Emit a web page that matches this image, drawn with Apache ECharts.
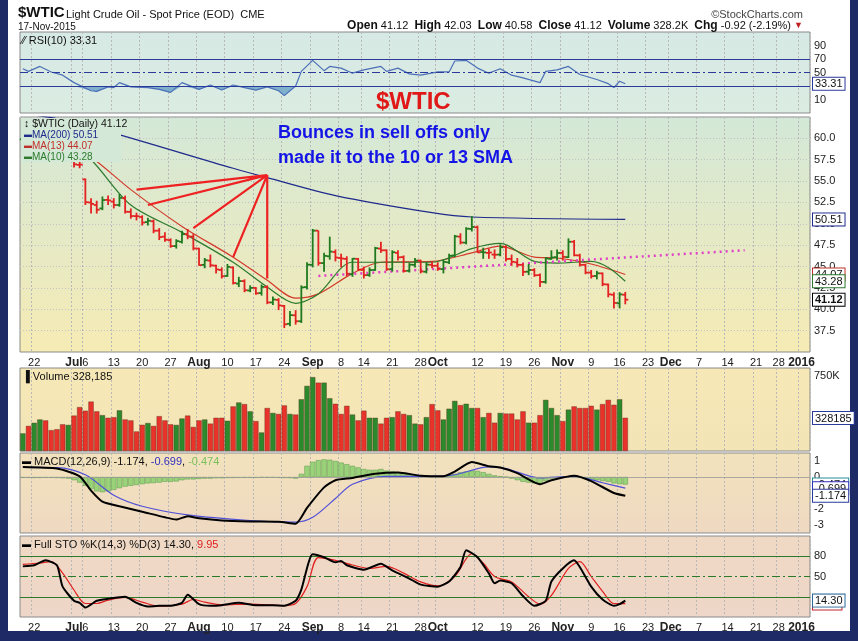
<!DOCTYPE html>
<html>
<head>
<meta charset="utf-8">
<script src="https://cdn.jsdelivr.net/npm/echarts@6/dist/echarts.min.js"></script>
<style>
html,body{margin:0;padding:0;background:#1d2a66;}
#wrap{position:absolute;left:8px;top:0;width:842px;height:631px;background:#fff;}
#main{position:absolute;left:0;top:0;width:858px;height:641px;}
</style>
</head>
<body>
<div id="wrap"></div>
<div id="main"></div>
<script>
// 价格数据 [open, high, low, close]，从 2015-06-18 到 2015-11-17
var ohlc = [
[59.9,60.9,59.6,60.45],[60.4,60.6,59.3,59.61],[59.6,60.2,59.2,59.68],[59.7,61.4,59.5,61.01],[61.0,61.2,60.0,60.27],
[60.3,60.6,59.4,59.70],[59.7,60.1,59.2,59.63],[59.0,59.3,58.0,58.33],[58.4,59.7,58.2,59.47],[58.0,58.1,56.6,56.96],
[56.9,57.5,56.5,56.93],[55.2,55.3,52.2,52.53],[52.5,53.0,51.2,52.33],[52.2,52.7,51.2,51.65],[51.8,53.2,51.6,52.78],
[52.8,53.3,52.2,52.74],[52.6,53.0,51.8,52.20],[52.2,53.5,52.0,53.04],[53.0,53.3,51.2,51.41],[51.4,51.8,50.6,50.91],
[50.9,51.3,50.4,50.89],[50.8,51.0,49.8,50.15],[50.2,50.7,49.8,50.36],[50.3,50.5,48.9,49.19],[49.2,49.5,48.1,48.45],
[48.5,49.0,47.9,48.14],[48.1,48.3,47.2,47.39],[47.4,48.2,47.1,47.98],[47.9,49.2,47.7,48.79],[48.8,49.4,48.2,48.52],
[48.5,48.8,46.9,47.12],[47.1,47.2,45.1,45.17],[45.2,46.0,44.8,45.74],[45.7,46.4,44.9,45.15],[45.1,45.2,44.2,44.66],
[44.6,44.9,43.6,43.87],[43.9,45.3,43.8,44.96],[44.9,45.0,42.9,43.08],[43.0,43.8,42.6,43.30],[43.3,43.5,42.0,42.23],
[42.2,42.8,42.0,42.50],[42.5,42.6,41.7,41.87],[41.9,42.9,41.6,42.62],[42.6,42.8,40.6,40.80],[40.8,41.5,40.5,41.14],
[41.1,41.3,39.9,40.45],[40.4,40.5,37.8,38.24],[38.3,39.8,38.0,39.31],[39.3,39.9,38.2,38.60],[38.6,42.8,38.4,42.56],
[42.6,45.5,42.3,45.22],[45.2,49.4,44.9,49.20],[49.2,49.2,45.1,45.41],[45.4,46.6,44.4,46.25],[46.2,48.5,45.8,46.75],
[46.7,47.0,45.6,46.05],[46.0,46.5,44.9,45.94],[45.9,46.2,43.9,44.15],[44.1,46.0,43.8,45.92],[45.9,46.0,44.5,44.63],
[44.6,45.0,43.6,44.00],[44.0,44.9,43.8,44.59],[44.6,47.3,44.5,47.15],[47.1,47.9,46.6,46.90],[46.9,47.0,44.5,44.68],
[44.7,46.9,44.4,46.68],[46.6,46.9,45.7,46.08],[46.1,46.3,44.3,44.48],[44.5,45.4,44.3,45.22],[45.2,46.0,44.9,45.70],
[45.7,45.8,44.2,44.43],[44.4,45.5,44.2,45.23],[45.2,45.6,44.8,45.09],[45.1,45.5,44.5,44.74],[44.7,45.8,44.2,45.54],
[45.5,46.5,45.3,46.26],[46.3,48.7,46.1,48.53],[48.5,48.9,47.6,47.81],[47.8,49.6,47.6,49.43],[49.4,50.9,49.1,49.63],
[49.6,49.8,46.6,46.66],[46.7,47.2,45.9,46.66],[46.6,47.1,45.9,46.64],[46.4,47.0,45.9,46.38],[46.4,47.6,46.2,47.26],
[47.3,47.5,45.6,45.89],[45.9,46.4,45.1,45.55],[45.5,46.0,44.9,45.20],[45.2,45.4,43.9,44.38],[44.4,45.3,44.0,44.60],
[44.6,44.8,43.8,43.98],[44.0,44.2,42.6,43.20],[43.2,46.1,43.0,45.94],[45.9,46.9,45.8,46.06],[46.1,47.0,45.7,46.59],
[46.6,46.9,45.7,46.14],[46.1,48.3,46.0,47.90],[47.9,48.1,46.2,46.32],[46.3,46.5,45.0,45.20],[45.2,45.3,44.1,44.29],
[44.3,44.6,43.6,43.87],[43.9,44.5,43.5,44.21],[44.2,44.3,42.7,42.93],[42.9,43.0,41.4,41.75],[41.7,42.0,40.1,40.74],
[40.7,42.0,40.1,41.74],[41.7,42.03,40.58,41.12]
];
// 成交量 (K)
var volume = [175,249,280,313,304,207,216,265,259,352,436,400,491,394,356,330,336,404,313,304,
194,260,278,249,346,304,265,259,323,352,239,304,313,272,330,330,300,443,482,466,
394,297,184,427,378,368,453,368,362,514,647,734,679,679,524,469,368,449,362,304,
401,330,330,272,330,336,394,368,356,272,265,336,466,404,313,420,498,456,469,427,
427,336,378,281,378,372,372,313,394,281,281,356,508,427,356,297,411,443,427,427,
449,411,466,508,459,514,330];
// 均线 [交易日序号, 值]
var ma200 = [[0,62.9],[6,62.3],[14,61.0],[37,56.5],[43,55.4],[55,53.3],[72,51.3],[79,50.8],[106,50.51]];
var ma13 = [[0,60.2],[9,58.5],[12,57.8],[19,54.0],[28,49.7],[37,46.1],[43,43.4],[48,41.3],[52,41.8],[58,44.2],[63,45.5],[72,45.6],[79,46.6],[84,47.4],[90,46.1],[94,46.0],[100,45.3],[106,44.07]];
var ma10 = [[0,60.0],[9,58.6],[12,57.5],[19,52.2],[28,49.0],[37,45.5],[43,42.6],[48,40.7],[52,41.8],[58,45.5],[72,45.5],[79,47.1],[84,47.7],[90,45.6],[94,45.4],[100,45.6],[103,44.9],[106,43.28]];
var trendLine = [[52,43.9],[127,46.9]];
var fanApex = [43,55.7];
var fanEnds = [[20,54.0],[22,52.2],[30,49.5],[37,46.1],[43,43.6]];
// RSI(10)
var rsi = [[0,55.6],[1,51.7],[3,59],[5,50.8],[7,46],[9,35],[12,23],[13,22],[15,28.7],[16,27.7],[17,35],[19,28.7],[22,27.7],[24,25],[26,20.5],[28,35],[31,25],[33,31.5],[35,24],[37,31.5],[39,27.7],[41,24],[43,28.7],[45,23],[46,15.7],[48,30],[49,51.7],[51,68],[53,52.7],[54,59],[56,56.5],[58,49],[60,54],[63,59],[64,51.7],[66,56.5],[68,48],[70,46],[73,50.8],[75,50.8],[76,67],[78,68],[80,56.5],[82,49],[84,55.6],[86,46],[88,42],[91,35],[92,51.7],[94,54],[96,59],[98,47],[101,39.7],[103,33.5],[104,27.7],[105,37],[106,33.31]];
// MACD(12,26,9)
var macd = [[0,0.63],[6,0.53],[10,0.04],[12,-0.85],[14,-1.54],[17,-1.83],[21,-2.17],[25,-2.52],[27,-2.66],[29,-2.45],[31,-2.58],[35,-2.72],[40,-2.78],[45,-2.8],[48,-2.92],[50,-1.93],[53,-0.65],[55,-0.2],[58,-0.06],[62,0.2],[66,0.28],[70,0.08],[74,0.04],[76,0.34],[79,0.93],[82,0.67],[84,0.59],[87,0.24],[91,-0.45],[93,-0.2],[97,0.08],[100,-0.26],[104,-1.0],[106,-1.174]];
var macdSignal = [[0,0.6],[6,0.59],[11,0.14],[16,-1.14],[21,-1.83],[29,-2.37],[40,-2.72],[48,-2.82],[51,-2.52],[55,-1.34],[58,-0.45],[64,0.04],[72,0.04],[76,0.14],[82,0.63],[85,0.53],[91,-0.06],[97,0.04],[102,-0.36],[106,-0.699]];
var macdHist = [-0.05,-0.05,-0.06,-0.06,-0.05,-0.05,-0.06,-0.08,-0.1,
-0.2,-0.35,-0.55,-0.75,-0.9,-0.95,-0.9,-0.8,-0.7,-0.6,-0.55,-0.5,
-0.45,-0.4,-0.38,-0.35,-0.3,-0.3,-0.28,-0.2,-0.15,-0.15,-0.12,-0.1,-0.1,-0.08,-0.08,-0.06,-0.06,-0.05,-0.05,-0.05,-0.05,-0.04,-0.04,-0.04,-0.05,
-0.06,-0.07,-0.1,0.2,0.7,
0.95,1.05,1.1,1.08,1.0,0.9,0.8,0.7,0.6,0.5,
0.45,0.45,0.5,0.4,0.35,0.3,0.25,0.2,0.15,0.1,0.08,0.05,
0.03,0.05,0.1,0.2,0.3,0.35,0.4,
0.38,0.3,0.2,0.1,0.05,0.0,-0.1,
-0.2,-0.3,-0.35,-0.4,-0.4,-0.25,-0.1,-0.05,
0.0,0.05,0.03,-0.05,-0.1,
-0.15,-0.2,-0.25,-0.3,-0.4,-0.45,-0.474];
// Full STO
var stoK = [[0,65],[2,66.6],[4,74],[6,66.6],[7,35],[9,14],[10,11],[11,4],[13,14],[15,17],[18,20],[20,11],[22,5.6],[24,6.6],[26,6.6],[28,11],[29,23],[31,9],[33,6.6],[35,7.5],[38,11],[41,7.5],[44,7.5],[46,6.6],[48,14],[49,30.6],[51,83],[53,78.6],[55,71],[56,73],[57,66.6],[60,60],[63,69],[65,59],[68,47],[70,38],[73,35],[75,42.6],[77,64],[78,89],[80,78.6],[82,54.6],[83,40],[84,44],[86,40],[88,21],[90,6.6],[92,14],[93,42.6],[95,62],[97,74],[98,64],[100,35],[102,16],[104,6.6],[105,9],[106,14.3]];
var stoD = [[0,68],[3,70],[5,72],[7,55],[9,30],[11,10],[13,10],[15,15],[18,19],[21,12],[24,6],[28,9],[30,16],[32,12],[35,8],[40,9],[46,7],[48,10],[50,35],[52,78],[55,74],[58,67],[61,62],[64,65],[67,55],[70,42],[73,36],[76,50],[79,84],[81,70],[83,50],[86,42],[89,20],[91,9],[93,22],[96,62],[98,72],[100,50],[102,28],[104,10],[106,9.95]];
// 横轴刻度标签
var tickLabels = {'2015-06-22':'22','2015-07-01':'Jul','2015-07-06':'6','2015-07-13':'13','2015-07-20':'20','2015-07-27':'27',
'2015-08-03':'Aug','2015-08-10':'10','2015-08-17':'17','2015-08-24':'24','2015-08-31':'Sep','2015-09-08':'8','2015-09-14':'14',
'2015-09-21':'21','2015-09-28':'28','2015-10-01':'Oct','2015-10-12':'12','2015-10-19':'19','2015-10-26':'26','2015-11-02':'Nov',
'2015-11-09':'9','2015-11-16':'16','2015-11-23':'23','2015-11-30':'Dec','2015-12-07':'7','2015-12-14':'14','2015-12-21':'21',
'2015-12-28':'28','2016-01-01':'2016'};

// 交易日
var holidays = ['2015-07-03','2015-09-07','2015-11-26','2015-12-25'];
var days = [];
var d = new Date(Date.UTC(2015,5,18));
while (days.length < 139) {
    var s = d.toISOString().slice(0,10);
    var wd = d.getUTCDay();
    if (wd != 0 && wd != 6 && holidays.indexOf(s) < 0) days.push(s);
    d.setUTCDate(d.getUTCDate() + 1);
}

var UP = '#1f7a1f', DN = '#e32222';
function isUp(i) { return i == 0 ? true : ohlc[i][3] >= ohlc[i-1][3]; }

var chart = echarts.init(document.getElementById('main'));
var FONT = 'Liberation Sans';
var grids = [
    {top: 32, height: 81},   // RSI
    {top: 117, height: 235}, // price
    {top: 368, height: 83},  // volume
    {top: 453, height: 80},  // MACD
    {top: 536, height: 81}   // STO
];
var bgs = [
    ['#d6e9e4','#dbece2'],
    ['#d3e8d8','#f6ebb4'],
    ['#f6e8b6','#f3e4b6'],
    ['#f2e2bc','#efd9c2'],
    ['#efd9c4','#eed6c8']
];
var gridOpts = grids.map(function (g, i) {
    return {left: 20, right: 48, top: g.top, height: g.height, show: true, borderColor: '#8a8a8a', borderWidth: 1,
        backgroundColor: {type: 'linear', x: 0, y: 0, x2: 0, y2: 1, colorStops: [{offset: 0, color: bgs[i][0]}, {offset: 1, color: bgs[i][1]}]}};
});
var xAxes = grids.map(function (g, i) {
    var showLab = (i == 1 || i == 4);
    return {
        type: 'category', gridIndex: i, data: days, boundaryGap: true,
        axisLine: {show: false}, axisTick: {show: false},
        axisLabel: {show: showLab, interval: 0, margin: 5, fontFamily: FONT, fontSize: 11, color: '#222',
            formatter: function (v) {
                var t = tickLabels[v];
                if (!t) return '';
                return /[A-Z]|2016/.test(t) ? '{b|' + t + '}' : t;
            },
            rich: {b: {fontWeight: 'bold', fontSize: 12, fontFamily: FONT, color: '#222'}}},
        splitLine: {show: true, interval: function (idx, v) { return !!tickLabels[v]; },
            lineStyle: {color: '#b8b8b8', type: [2, 2], width: 1}}
    };
});
function yAx(i, min, max, interval, fmt, grid) {
    return {type: 'value', gridIndex: i, position: 'right', min: min, max: max, interval: interval,
        axisLine: {show: false}, axisTick: {show: false},
        axisLabel: {fontFamily: FONT, fontSize: 11, color: '#222', margin: 4, formatter: fmt},
        splitLine: {show: grid, lineStyle: {color: '#c4c4c4', type: [1, 2]}}};
}
var yAxes = [
    yAx(0, -10, 110, 10, function (v) { return (v == 90 || v == 70 || v == 50 || v == 10) ? v : ''; }, false),
    yAx(1, 35, 62.5, 2.5, function (v) { return (v >= 37.5 && v <= 60) ? v.toFixed(1) : ''; }, true),
    yAx(2, 0, 825, 75, function (v) { return (v == 250 || v == 500 || v == 750) ? v + 'K' : ''; }, false),
    yAx(3, -3.5, 1.5, 0.5, function (v) { return (v == 1 || v == 0 || v == -2 || v == -3) ? v : ''; }, false),
    yAx(4, -10, 110, 10, function (v) { return (v == 80 || v == 50) ? v : ''; }, false)
];

var rsiBelow = rsi.map(function (p) { return [p[0], Math.min(p[1], 30)]; });

function dashMark(axisVal, color, type) {
    return {yAxis: axisVal, lineStyle: {color: color, type: type, width: 1.2}};
}

var series = [
    // RSI
    {type: 'line', xAxisIndex: 0, yAxisIndex: 0, data: rsiBelow, symbol: 'none', lineStyle: {width: 0},
        areaStyle: {color: '#6fa7c8', opacity: 0.85, origin: 30}, silent: true, z: 2},
    {type: 'line', xAxisIndex: 0, yAxisIndex: 0, data: rsi, symbol: 'none', lineStyle: {color: '#4c6fb8', width: 1.2}, z: 3,
        markLine: {symbol: 'none', silent: true, label: {show: false},
            data: [dashMark(70, '#2a3a9a', 'solid'), dashMark(30, '#2a3a9a', 'solid'), dashMark(50, '#2a3a9a', [8, 3, 2, 3])]}},
    // 价格 OHLC
    {type: 'custom', xAxisIndex: 1, yAxisIndex: 1, z: 5,
        data: ohlc.map(function (r, i) { return [i, r[0], r[1], r[2], r[3]]; }),
        renderItem: function (params, api) {
            var i = api.value(0);
            var h = api.coord([i, api.value(2)]), l = api.coord([i, api.value(3)]);
            var o = api.coord([i, api.value(1)]), c = api.coord([i, api.value(4)]);
            var col = isUp(i) ? UP : DN;
            var st = {stroke: col, lineWidth: 1.8};
            return {type: 'group', children: [
                {type: 'line', shape: {x1: h[0], y1: h[1], x2: l[0], y2: l[1]}, style: st},
                {type: 'line', shape: {x1: o[0] - 3, y1: o[1], x2: o[0], y2: o[1]}, style: st},
                {type: 'line', shape: {x1: c[0], y1: c[1], x2: c[0] + 3, y2: c[1]}, style: st}
            ]};
        }},
    {type: 'line', xAxisIndex: 1, yAxisIndex: 1, data: ma200, symbol: 'none', smooth: 0.3, lineStyle: {color: '#1e2a8c', width: 1.2}, z: 4},
    {type: 'line', xAxisIndex: 1, yAxisIndex: 1, data: ma13, symbol: 'none', smooth: 0.3, lineStyle: {color: '#d23a2a', width: 1.2}, z: 4},
    {type: 'line', xAxisIndex: 1, yAxisIndex: 1, data: ma10, symbol: 'none', smooth: 0.3, lineStyle: {color: '#2d7a2d', width: 1.2}, z: 4},
    {type: 'line', xAxisIndex: 1, yAxisIndex: 1, data: trendLine, symbol: 'none', lineStyle: {color: '#e040c8', width: 2.5, type: [2, 4]}, z: 4},
    {type: 'line', xAxisIndex: 1, yAxisIndex: 1, symbol: 'none', connectNulls: false, z: 6,
        lineStyle: {color: '#ee2222', width: 2.2},
        data: (function () { var a = []; fanEnds.forEach(function (p) { a.push(p, fanApex, '-'); }); return a; })()},
    // 成交量
    {type: 'bar', xAxisIndex: 2, yAxisIndex: 2, barWidth: '92%',
        data: volume.map(function (v, i) { return {value: v, itemStyle: {color: isUp(i) ? '#2b8a2b' : '#e8322a', borderColor: '#5a3020', borderWidth: 0.4}}; })},
    // MACD
    {type: 'bar', xAxisIndex: 3, yAxisIndex: 3, barWidth: '92%', data: macdHist,
        itemStyle: {color: '#9ad27a', borderColor: '#5a9a4a', borderWidth: 0.5},
        markLine: {symbol: 'none', silent: true, label: {show: false}, data: [{yAxis: 0, lineStyle: {color: '#999', type: 'solid', width: 0.8}}]}},
    {type: 'line', xAxisIndex: 3, yAxisIndex: 3, data: macdSignal, symbol: 'none', smooth: 0.3, lineStyle: {color: '#5050d8', width: 1.2}, z: 4},
    {type: 'line', xAxisIndex: 3, yAxisIndex: 3, data: macd, symbol: 'none', smooth: 0.2, lineStyle: {color: '#000', width: 2}, z: 5},
    // STO
    {type: 'line', xAxisIndex: 4, yAxisIndex: 4, data: stoD, symbol: 'none', smooth: 0.3, lineStyle: {color: '#e02020', width: 1.2}, z: 4,
        markLine: {symbol: 'none', silent: true, label: {show: false},
            data: [dashMark(80, '#2a7a2a', 'solid'), dashMark(20, '#2a7a2a', 'solid'), dashMark(50, '#2a7a2a', [8, 3, 2, 3])]}},
    {type: 'line', xAxisIndex: 4, yAxisIndex: 4, data: stoK, symbol: 'none', smooth: 0.2, lineStyle: {color: '#000', width: 2}, z: 5}
];

var txt = function (x, y, text, style) {
    var s = {text: text, fontFamily: FONT, fontSize: 11, fill: '#111'};
    for (var k in style) s[k] = style[k];
    return {type: 'text', left: x, top: y, z: 50, style: s};
};

var graphics = [
    txt(18, 5, '$WTIC', {fontSize: 15, fontWeight: 'bold'}),
    txt(66, 9, 'Light Crude Oil - Spot Price (EOD)  CME', {fontSize: 11}),
    txt(18, 22, '17-Nov-2015', {fontSize: 10}),
    {type: 'text', right: 55, top: 9, z: 50, style: {text: '©StockCharts.com', fontFamily: FONT, fontSize: 11, fill: '#444'}},
    {type: 'text', right: 55, top: 20, z: 50, style: {
        text: '{b|Open} 41.12  {b|High} 42.03  {b|Low} 40.58  {b|Close} 41.12  {b|Volume} 328.2K  {b|Chg} -0.92 (-2.19%) {r|▼}',
        fontFamily: FONT, fontSize: 11, fill: '#111',
        rich: {b: {fontWeight: 'bold', fontSize: 12, fontFamily: FONT}, r: {fill: '#c02020', fontSize: 9}}}},
    txt(22, 35, '⁄⁄ RSI(10) 33.31', {fontSize: 11}),
    txt(376, 90, '$WTIC', {fontSize: 24, fontWeight: 'bold', fill: '#e01818', fontFamily: 'Liberation Sans'}),
    {type: 'rect', left: 21, top: 118, z: 45, shape: {width: 100, height: 44}, style: {fill: '#d4e8d8'}},
    txt(24, 119, '↕ $WTIC (Daily) 41.12', {fontSize: 10.5}),
    txt(24, 130, '{n|▬}MA(200) 50.51', {fontSize: 10, fill: '#1e2a8c', rich: {n: {fill: '#1e2a8c', fontSize: 8}}}),
    txt(24, 141, '{n|▬}MA(13) 44.07', {fontSize: 10, fill: '#c0302a', rich: {n: {fill: '#c0302a', fontSize: 8}}}),
    txt(24, 152, '{n|▬}MA(10) 43.28', {fontSize: 10, fill: '#2d7a2d', rich: {n: {fill: '#2d7a2d', fontSize: 8}}}),
    txt(278, 124, 'Bounces in sell offs only', {fontSize: 18, fontWeight: 'bold', fill: '#1414e6', fontFamily: 'Liberation Sans'}),
    txt(278, 149, 'made it to the 10 or 13 SMA', {fontSize: 18, fontWeight: 'bold', fill: '#1414e6', fontFamily: 'Liberation Sans'}),
    txt(22, 371, '▐ Volume 328,185', {fontSize: 11}),
    txt(22, 456, '{k|▬} MACD(12,26,9) -1.174, {p|-0.699}, {g|-0.474}', {fontSize: 11,
        rich: {k: {fill: '#000', fontSize: 9}, p: {fill: '#3030c0', fontSize: 11, fontFamily: FONT}, g: {fill: '#7ac05a', fontSize: 11, fontFamily: FONT}}}),
    txt(22, 539, '{k|▬} Full STO %K(14,3) %D(3) 14.30, {r|9.95}', {fontSize: 11,
        rich: {k: {fill: '#000', fontSize: 9}, r: {fill: '#e02020', fontSize: 11, fontFamily: FONT}}})
];

chart.setOption({
    animation: false,
    backgroundColor: 'transparent',
    grid: gridOpts, xAxis: xAxes, yAxis: yAxes, series: series, graphic: graphics
});

// 右侧数值标签
var tags = [
    [0, 33.31, '33.31', '#2a3a9a', false],
    [1, 50.51, '50.51', '#1e2a8c', false],
    [1, 44.07, '44.07', '#c0302a', false],
    [1, 43.28, '43.28', '#2d7a2d', false],
    [1, 41.12, '41.12', '#000', true],
    [2, 328.185, '328185', '#2a3a9a', false],
    [3, -0.474, '-0.474', '#2a8a9a', false],
    [3, -0.699, '-0.699', '#3030c0', false],
    [3, -1.174, '-1.174', '#2a3a9a', false],
    [4, 9.95, ' 9.95', '#c02020', false],
    [4, 14.30, '14.30', '#2a6a9a', false]
];
var extra = tags.map(function (t) {
    var y = chart.convertToPixel({yAxisIndex: t[0]}, t[1]);
    return {type: 'text', left: 812, top: y - 7, z: 60, style: {
        text: t[2], fontFamily: FONT, fontSize: 11, fontWeight: t[4] ? 'bold' : 'normal', fill: '#111',
        backgroundColor: '#fff', borderColor: t[3], borderWidth: 1, padding: [1, 2, 0, 2]}};
});
chart.setOption({graphic: graphics.concat(extra)});
</script>
</body>
</html>
